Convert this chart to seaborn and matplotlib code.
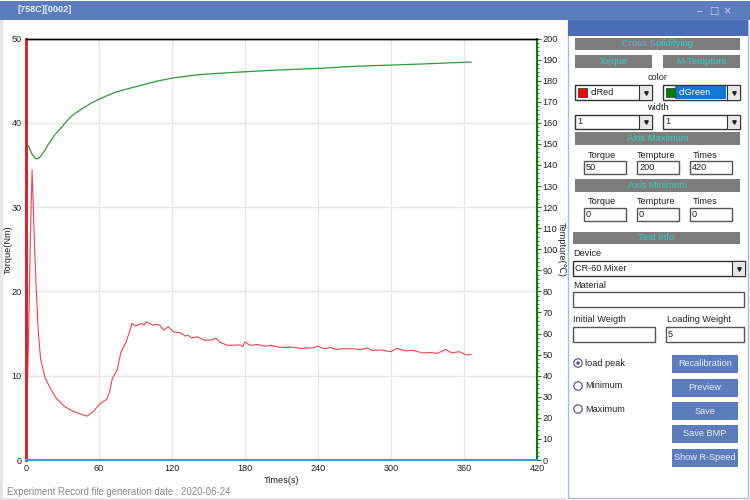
"""
plot.py
-------
Torque / temperature mixer curve with the instrument's side panel.
"""

import matplotlib
matplotlib.use("Agg")
import matplotlib.pyplot as plt
from matplotlib.patches import Circle, Rectangle
from matplotlib.ticker import MultipleLocator
import pandas as pd
import seaborn as sns

sns.set_theme(style="white")
plt.rcParams["font.family"] = ["Liberation Sans", "DejaVu Sans"]

# Torque curve
torque_time = [0, 0.5, 1, 2, 3, 4, 5, 5.8, 7.4, 8.2, 10, 12, 15.6, 20, 25, 32, 40, 50,
               55, 61, 66.5, 69, 71, 75, 78, 82, 85.5, 87, 90, 95, 97, 99, 104, 107.5,
               110, 113, 117, 121, 126.5, 131, 133, 136, 141, 147, 153, 156, 159.5,
               166, 176, 178, 180, 184, 190, 196, 201, 209, 218, 226, 236, 240, 245,
               250, 255, 260, 268, 276, 280, 285, 292, 300, 305, 312, 318, 326, 332,
               338, 345, 350, 356, 362, 366]
torque_values = [0, 44, 8, 14, 22, 29, 34.4, 30.8, 24, 21, 15.4, 12, 9.8, 8.5, 7.3, 6.3,
                 5.7, 5.2, 5.7, 6.7, 7.2, 8.3, 9.7, 10.7, 12.8, 13.9, 15.4, 16.2, 15.9,
                 16.2, 16.0, 16.4, 16.0, 16.1, 16.0, 15.4, 15.8, 15.2, 15.1, 14.7, 14.8,
                 14.5, 14.6, 14.2, 14.25, 14.45, 13.95, 13.6, 13.65, 13.45, 14.0, 13.6,
                 13.7, 13.5, 13.6, 13.35, 13.4, 13.25, 13.3, 13.5, 13.2, 13.35, 13.1,
                 13.2, 13.2, 13.1, 13.3, 13.0, 13.05, 12.85, 13.25, 12.95, 13.0, 12.7,
                 12.75, 12.65, 13.1, 12.7, 12.85, 12.45, 12.55]

# Temperature curve
temp_time = [0, 2, 5, 8, 10, 12, 15.6, 18, 21, 24, 28, 33, 38, 47, 54, 61, 74, 88, 108,
             121, 143, 170, 205, 240, 270, 300, 330, 350, 366]
temp_values = [150, 149, 145, 143, 143, 144, 147, 149.5, 152, 154.5, 157, 160.5, 163.5,
               167, 169.5, 171.5, 174.6, 176.8, 179.8, 181.3, 182.9, 183.9, 185, 185.8,
               186.8, 187.4, 188, 188.5, 188.8]

time_ticks = [0, 60, 120, 180, 240, 300, 360, 420]
torque_ticks = [0, 10, 20, 30, 40, 50]
temp_ticks = list(range(0, 201, 10))

W, H = 750, 500
BLUE = "#5b7dbd"
GREY = "#7d7d7d"
CYAN = "#2fcfc4"

fig = plt.figure(figsize=(7.5, 5), dpi=100, facecolor="white")

# Pixel layer for the window and its controls
ui = fig.add_axes([0, 0, 1, 1], zorder=0)
ui.set_xlim(0, W)
ui.set_ylim(H, 0)
ui.axis("off")


def box(x0, y0, x1, y1, face="white", edge="none", lw=1.0):
    ui.add_patch(Rectangle((x0, y0), x1 - x0, y1 - y0, facecolor=face, edgecolor=edge, linewidth=lw))


def label(x, y, text, color="#222222", size=6.6, ha="center", **kw):
    ui.text(x, y, text, color=color, fontsize=size, ha=ha, va="center", **kw)


def bar(x0, y0, x1, y1, text):
    box(x0, y0, x1, y1, face=GREY)
    label((x0 + x1) / 2, (y0 + y1) / 2, text, color=CYAN, size=6.8)


def entry(x0, y0, x1, y1, text=""):
    box(x0, y0, x1, y1, edge="#555555", lw=1.0)
    label(x0 + 2, (y0 + y1) / 2, text, ha="left")


def combo(x0, y0, x1, y1, text="", swatch=None, selected=False):
    box(x0, y0, x1, y1, edge="#333333", lw=1.0)
    box(x1 - 13, y0 + 0.5, x1 - 0.5, y1 - 0.5, face="#e6e6e6")
    ui.plot([x1 - 13, x1 - 13], [y0, y1], color="#333333", lw=0.8)
    ui.plot([x1 - 6.5], [(y0 + y1) / 2], marker="v", ms=2.5, color="#222222")
    tx = x0 + 2
    if selected:
        box(x0 + 12, y0 + 1, x1 - 14, y1 - 1, face="#0f78d6")
    if swatch:
        box(x0 + 3, y0 + 3, x0 + 12, y1 - 3, face=swatch, edge="#444444", lw=0.6)
        tx = x0 + 16
    label(tx, (y0 + y1) / 2, text, ha="left", color="white" if selected else "#222222")


def radio(y, text, checked=False):
    ui.add_patch(Circle((578, y), 4.2, facecolor="white", edgecolor="#5f5a95", linewidth=0.9))
    if checked:
        ui.add_patch(Circle((578, y), 1.8, facecolor="#5f5a95", edgecolor="none"))
    label(585, y, text, ha="left")


def button(y0, y1, text):
    box(672, y0, 738, y1, face=BLUE)
    label(705, (y0 + y1) / 2, text, color="#e8eef8", size=6.6)


# Title bar and window edges
box(0, 1, W, 20, face=BLUE)
box(0, 20, 2.5, H, face="#e4e4e4")
box(0, 498, 566, H, face="#e4e4e4")
label(18, 10, "[758C][0002]", color="#eef2fa", size=6.6, ha="left", fontweight="bold")
label(700, 11, "–", color="#c7d3ea", size=7)
label(714, 11, "□", color="#c7d3ea", size=7, family="DejaVu Sans")
label(727, 11, "×", color="#c7d3ea", size=9)

# Side panel
box(568, 20, 748, 498, edge="#a9bce0", lw=1.0)
box(568, 20, 748, 36, face="#4a6fb8")
bar(575, 38, 740, 50, "Cross Solidifying")
bar(575, 55, 652, 68, "Torque")
bar(663, 55, 740, 68, "M-Tempture")
label(658, 78, "color")
combo(575, 85, 652, 100, "clRed", swatch="#ff0000")
combo(663, 85, 740, 100, "clGreen", swatch="#008000", selected=True)
label(658, 108, "width")
combo(575, 115, 652, 129, "1")
combo(663, 115, 740, 129, "1")

bar(575, 132, 740, 145, "Axis Maximum")
bar(575, 179, 740, 192, "Axis Minimum")
for cx, x0, name, top, low in zip([602, 656, 705], [584, 637, 690],
                                  ["Torque", "Tempture", "Times"],
                                  ["50", "200", "420"], ["0", "0", "0"]):
    label(cx, 155, name)
    entry(x0, 161, x0 + 42, 174, top)
    label(cx, 201, name)
    entry(x0, 208, x0 + 42, 221, low)

bar(573, 232, 740, 244, "Test Info")
label(573, 254, "Device", ha="left")
combo(573, 261, 745, 276, "CR-60 Mixer")
label(573, 285, "Material", ha="left")
entry(573, 292, 744, 307)
label(573, 320, "Initial Weigth", ha="left")
entry(573, 327, 655, 342)
label(667, 320, "Loading Weight", ha="left")
entry(666, 327, 744, 342, "5")

radio(363, "load peak", checked=True)
radio(386, "Minimum")
radio(409, "Maximum")
for y0, y1, name in [(355, 373, "Recalibration"), (379, 397, "Preview"), (402, 420, "Save"),
                     (425, 443, "Save BMP"), (449, 467, "Show R-Speed")]:
    button(y0, y1, name)

label(7, 492, "Experiment Record file generation date : 2020-06-24", color="#8a8a8a", size=6.9, ha="left")

# Chart
ax = fig.add_axes([26 / W, 1 - 460 / H, 511 / W, 421.5 / H], zorder=1)
ax2 = ax.twinx()
torque_df = pd.DataFrame({"time": torque_time, "torque": torque_values})
temp_df = pd.DataFrame({"time": temp_time, "temp": temp_values})
sns.lineplot(data=torque_df, x="time", y="torque", ax=ax, color="#f0444e", linewidth=0.8, estimator=None, sort=False)
sns.lineplot(data=temp_df, x="time", y="temp", ax=ax2, color="#2f9a3c", linewidth=0.9, estimator=None, sort=False)

ax.set_xlim(0, 420)
ax.set_ylim(0, 50)
ax2.set_ylim(0, 200)
ax.set_xticks(time_ticks)
ax.set_yticks(torque_ticks)
ax2.set_yticks(temp_ticks)
ax2.yaxis.set_minor_locator(MultipleLocator(2))
ax.grid(True, color="#e6e6e6", linewidth=1.0)
ax.set_axisbelow(True)
ax2.grid(False)

ax.tick_params(axis="both", labelsize=6.6, length=0, pad=3, colors="#222222")
ax2.tick_params(axis="y", which="major", labelsize=6.6, length=3, width=0.7, pad=1, color="#008000", labelcolor="#222222")
ax2.tick_params(axis="y", which="minor", length=1.5, width=0.6, color="#008000")

ax.set_xlabel("Times(s)", fontsize=6.6, labelpad=2, color="#222222")
ax.set_ylabel("Torque(Nm)", fontsize=6.6, va="center", color="#222222")
ax2.set_ylabel("Tempture(℃)", fontsize=6.6, rotation=270, va="center", color="#222222")
ax.yaxis.set_label_coords(-0.035, 0.5)
ax2.yaxis.set_label_coords(1.047, 0.5)

for axis in (ax, ax2):
    axis.spines["top"].set(color="black", linewidth=1.0)
    axis.spines["left"].set(color="#d8262c", linewidth=2.0)
    axis.spines["right"].set(color="#008000", linewidth=1.3)
    axis.spines["bottom"].set(color="#3f97e0", linewidth=1.4)

fig.savefig("out.png", dpi=100)
